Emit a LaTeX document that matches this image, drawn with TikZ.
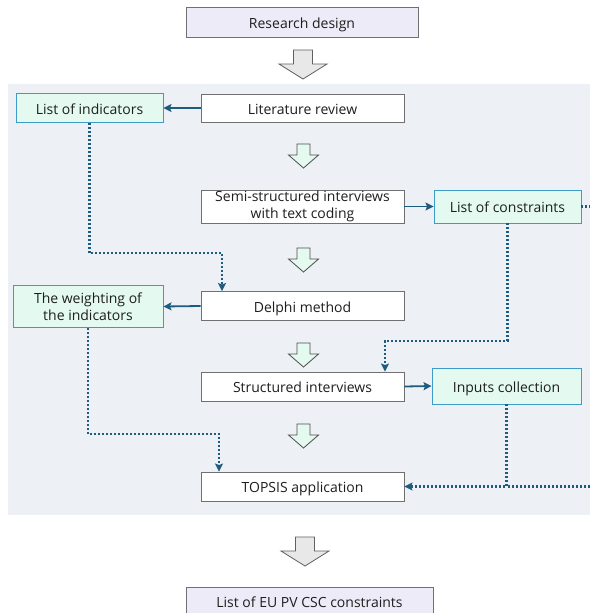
\documentclass[tikz,border=0pt]{standalone}
\usepackage{fontspec}
\setmainfont{Open Sans}
\usetikzlibrary{arrows.meta,calc}

\definecolor{panelbg}{HTML}{EDF0F4}
\definecolor{lavender}{HTML}{EEEBF8}
\definecolor{mintfill}{HTML}{E4FAF0}
\definecolor{mintedge}{HTML}{3D9CC6}
\definecolor{linkblue}{HTML}{1D5C7C}
\definecolor{boxedge}{HTML}{707070}
\definecolor{inktext}{HTML}{1E1E1E}

\tikzset{
  x=1pt, y=-1pt,
  basebox/.style={draw=boxedge, line width=0.9pt, inner sep=0pt, align=center,
    text=inktext, font=\fontsize{14}{17}\selectfont},
  oneline/.style={text height=12pt, text depth=0pt},
  stagebox/.style={basebox, oneline, fill=lavender},
  stepbox/.style={basebox, fill=white, minimum width=203pt, minimum height=29pt},
  outbox/.style={basebox, fill=mintfill, draw=mintedge},
  link/.style={draw=linkblue, line width=1.8pt,
    -{Stealth[length=8pt,width=8pt,inset=1.5pt]}},
  dotlink/.style={draw=linkblue, line width=2.2pt, dash pattern=on 2pt off 2pt},
  dotarrow/.style={dotlink, -{Stealth[length=8pt,width=8pt,inset=1.5pt]}},
  bigdown/.pic={
    \draw[fill=gray!18, draw=gray!75!black, line width=0.8pt]
      (-9.5,0) -- (9.5,0) -- (9.5,14) -- (24,14) -- (0,29) -- (-24,14) -- (-9.5,14) -- cycle;
  },
  smalldown/.pic={
    \draw[fill=mintfill, draw=gray!60!black, line width=0.8pt]
      (-6.5,0) -- (6.5,0) -- (6.5,11) -- (15,11) -- (0,24) -- (-15,11) -- (-6.5,11) -- cycle;
  },
}

\begin{document}
\begin{tikzpicture}
  \useasboundingbox (0,0) rectangle (590,613);
  \fill[white] (0,0) rectangle (590,613);

  % shaded panel holding the method steps
  \fill[panelbg] (8,84) rectangle (590,515);

  % stage boxes
  \node[stagebox, minimum width=232pt, minimum height=30pt] (design) at (302,22) {Research design};
  \node[stagebox, minimum width=247pt, minimum height=28pt] (result) at (309.5,601) {List of EU PV CSC constraints};

  % method steps
  \node[stepbox, oneline, minimum height=28pt] (lit) at (302.5,108) {Literature review};
  \node[stepbox, minimum height=33pt] (semi) at (302.5,206.5) {Semi-structured interviews\\with text coding};
  \node[stepbox, oneline] (delphi) at (302.5,306) {Delphi method};
  \node[stepbox, oneline] (struct) at (302.5,386.5) {Structured interviews};
  \node[stepbox, oneline] (topsis) at (302.5,486.5) {TOPSIS application};

  % outputs of the steps
  \node[outbox, oneline, minimum width=147pt, minimum height=29pt] (ind) at (89.5,108) {List of indicators};
  \node[outbox, oneline, minimum width=147pt, minimum height=33pt] (cons) at (507.5,206.5) {List of constraints};
  \node[outbox, minimum width=150pt, minimum height=42pt] (wt) at (88,306.5) {The weighting of\\the indicators};
  \node[outbox, oneline, minimum width=149pt, minimum height=36pt] (inputs) at (506.5,386) {Inputs collection};

  % block arrows between stages and steps
  \pic at (303,50) {bigdown};
  \pic at (305,537) {bigdown};
  \pic at (303.5,144) {smalldown};
  \pic at (303.5,248) {smalldown};
  \pic at (303.5,343) {smalldown};
  \pic at (303.5,424) {smalldown};

  % step -> output
  \draw[link] (lit.west) -- (ind.east);
  \draw[link] (semi.east) -- (cons.west);
  \draw[link] (delphi.west) -- (wt.east);
  \draw[link] (struct.east) -- (inputs.west);

  % outputs feeding later steps
  \coordinate (k1) at (222,253);
  \coordinate (k2) at (385,341);
  \coordinate (k3) at (219,434);
  \coordinate (edgeA) at (590,206.5);
  \coordinate (edgeB) at (590,486.5);

  \draw[dotarrow] (ind.south) |- (k1) -- (k1 |- delphi.north);
  \draw[dotarrow] (cons.south) |- (k2) -- (k2 |- struct.north);
  \draw[dotarrow] (wt.south) |- (k3) -- (k3 |- topsis.north);
  \draw[dotarrow] (inputs.south) |- (topsis.east);
  \draw[dotlink] (cons.east) -- (edgeA);
  \draw[dotlink] (edgeB) -- (inputs.south |- topsis.east);
\end{tikzpicture}
\end{document}
